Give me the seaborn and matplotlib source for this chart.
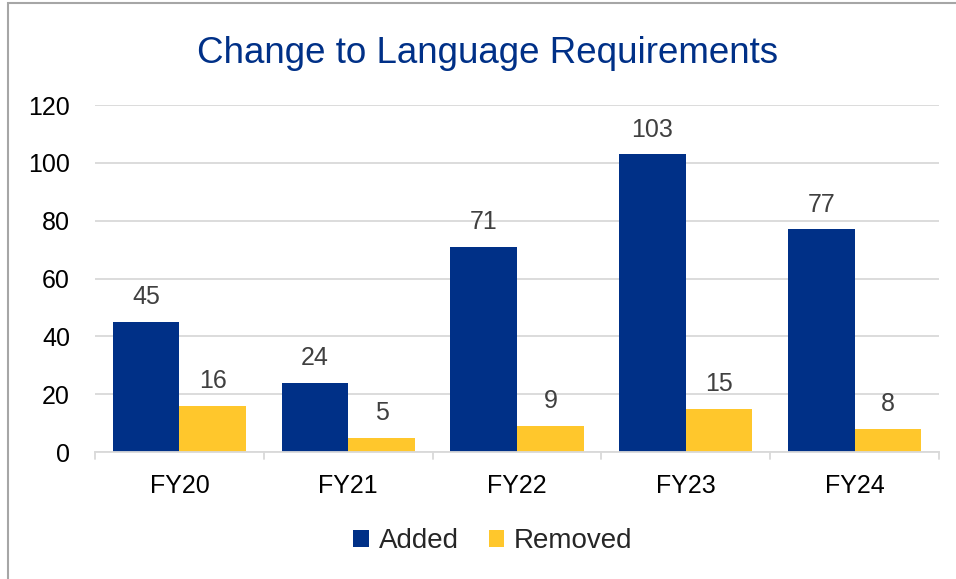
import matplotlib
matplotlib.use("Agg")
import matplotlib.pyplot as plt
import seaborn as sns
import pandas as pd
from matplotlib.patches import Rectangle

categories = ["FY20", "FY21", "FY22", "FY23", "FY24"]
added = [45, 24, 71, 103, 77]
removed = [16, 5, 9, 15, 8]
series_names = ["Added", "Removed"]
yticks = [0, 20, 40, 60, 80, 100, 120]

df = pd.DataFrame({
    "FY": categories * 2,
    "Series": [series_names[0]] * len(categories) + [series_names[1]] * len(categories),
    "Value": added + removed,
})

sns.set_theme(style="white")
plt.rcParams["font.family"] = ["Liberation Sans", "DejaVu Sans"]

W, H = 956, 579
fig = plt.figure(figsize=(W / 100, H / 100), dpi=100)
ax = fig.add_axes([95 / W, 1 - 452 / H, (939 - 95) / W, (452 - 105) / H])

palette = {"Added": "#003087", "Removed": "#FFC72C"}
sns.barplot(data=df, x="FY", y="Value", hue="Series", palette=palette,
            width=0.79, ax=ax, saturation=1, legend=True, linewidth=0)

for c in ax.containers:
    ax.bar_label(c, padding=9, fontsize=18, color="#404040")

ax.set_ylim(0, 120)
ax.set_yticks(yticks)
ax.set_xlim(-0.5, len(categories) - 0.5)
ax.yaxis.grid(True, color="#D9D9D9", linewidth=1.3)
ax.set_axisbelow(True)
for s in ["top", "right", "left"]:
    ax.spines[s].set_visible(False)
ax.spines["bottom"].set_color("#D9D9D9")
ax.spines["bottom"].set_linewidth(1.3)
ax.set_xlabel("")
ax.set_ylabel("")
ax.tick_params(axis="y", labelsize=18, length=0, pad=18, labelcolor="#000000")
ax.tick_params(axis="x", labelsize=18, length=0, pad=16, labelcolor="#000000")
# category separator ticks
for i in range(len(categories) + 1):
    ax.plot([i - 0.5, i - 0.5], [0, -2.4], color="#D9D9D9", lw=1.3, clip_on=False)

fig.text(488 / W, 1 - 63 / H, "Change to Language Requirements", fontsize=26.5,
         color="#003087", ha="center", va="baseline")

leg = ax.get_legend()
leg.remove()
handles, labels = ax.get_legend_handles_labels()
fig.legend(handles, labels, loc="center", bbox_to_anchor=(493 / W, 1 - 541 / H),
           ncol=2, frameon=False, fontsize=20, handlelength=0.55, handleheight=0.55,
           handletextpad=0.35, columnspacing=1.1)

fig.patches.append(Rectangle((8 / W, -0.1), 1.2, 1.1 - 3 / H, transform=fig.transFigure,
                             fill=False, edgecolor="#A6A6A6", linewidth=1.5))

fig.savefig("out.png", dpi=100)
